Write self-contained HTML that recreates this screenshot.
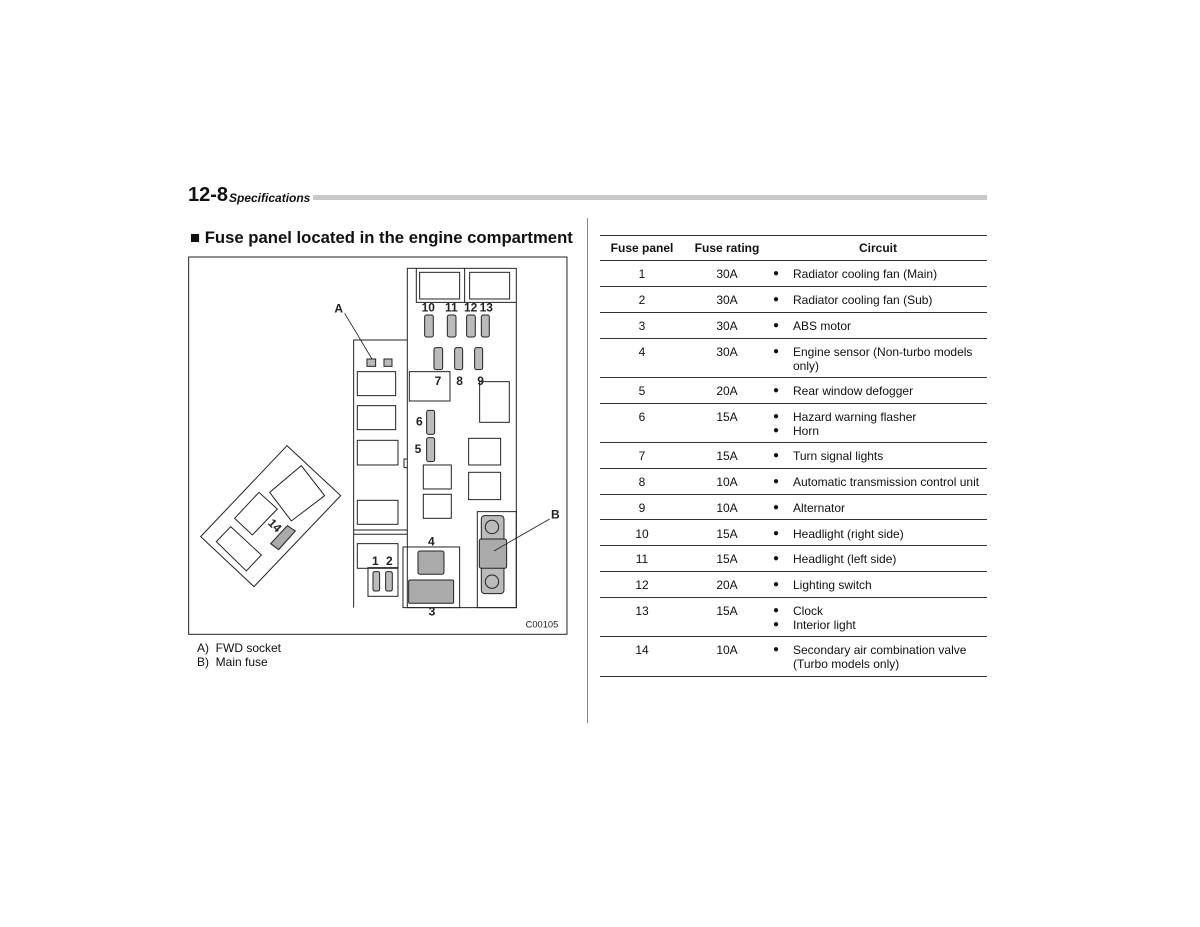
<!DOCTYPE html>
<html><head><meta charset="utf-8"><style>
body{margin:0;background:#fff;width:1200px;height:927px;position:relative;font-family:"Liberation Sans",Arial,sans-serif;color:#111;overflow:hidden}
.a{position:absolute;white-space:nowrap}
.c{position:absolute;font-size:12px;transform:translateX(-50%)}
.t{position:absolute;font-size:12px;left:793px;line-height:14px}
.b{position:absolute;left:773px;font-size:10px;line-height:14px}
.hl{position:absolute;left:600px;width:387px;height:1px;background:#333}
</style></head><body>
<div class="a" style="left:313px;top:195px;width:674px;height:5px;background:#c8c8c8"></div>
<div class="a" style="left:188px;top:184px;font-size:20px;font-weight:bold">12-8</div>
<div class="a" style="left:229px;top:191px;font-size:12px;font-weight:bold;font-style:italic">Specifications</div>
<div class="a" style="left:190px;top:228px;font-size:16.7px;font-weight:bold">■ Fuse panel located in the engine compartment</div>
<div class="a" style="left:587px;top:218px;width:1px;height:505px;background:#888"></div>
<div class="a" style="left:197px;top:641px;font-size:12px;line-height:14px">A)&nbsp; FWD socket<br>B)&nbsp; Main fuse</div>
<svg class="a" style="left:0;top:0" width="1200" height="927">
<g transform="translate(188,255) scale(0.3333)" fill="none" stroke="#222" stroke-width="3" font-family="Liberation Sans,Arial,sans-serif" font-weight="bold" font-size="36">
<rect x="2" y="6" width="1135" height="1132"/>
<rect x="658" y="40" width="327" height="1018"/>
<path d="M685 40V142H985M830 40V142"/>
<rect x="695" y="52" width="120" height="80"/><rect x="845" y="52" width="120" height="80"/>
<g fill="#bbb"><rect x="710" y="180" width="26" height="66" rx="6"/><rect x="778" y="180" width="26" height="66" rx="6"/><rect x="836" y="180" width="26" height="66" rx="6"/><rect x="880" y="180" width="24" height="66" rx="6"/>
<rect x="738" y="278" width="26" height="66" rx="6"/><rect x="800" y="278" width="24" height="66" rx="6"/><rect x="860" y="278" width="24" height="66" rx="6"/>
<rect x="716" y="466" width="24" height="72" rx="6"/><rect x="716" y="548" width="24" height="72" rx="6"/>
<rect x="537" y="312" width="26" height="22"/><rect x="588" y="312" width="24" height="22"/></g>
<rect x="664" y="350" width="122" height="88"/><rect x="875" y="380" width="89" height="122"/>
<path d="M497 1058V255H658M497 825H658M497 838H658M658 612H648V638H658"/>
<rect x="508" y="350" width="115" height="72"/><rect x="508" y="452" width="115" height="72"/><rect x="508" y="556" width="122" height="74"/><rect x="508" y="736" width="122" height="72"/>
<rect x="706" y="630" width="84" height="72"/><rect x="706" y="718" width="84" height="72"/><rect x="842" y="550" width="96" height="80"/><rect x="842" y="652" width="96" height="82"/>
<rect x="868" y="770" width="117" height="288"/>
<rect x="880" y="782" width="68" height="234" rx="10" fill="#bbb"/><rect x="874" y="852" width="82" height="88" rx="6" fill="#aaa"/>
<circle cx="912" cy="816" r="20"/><circle cx="912" cy="980" r="20"/>
<path d="M1085 792L918 888M470 175L552 312" stroke-width="2.5"/>
<rect x="508" y="866" width="122" height="74"/><rect x="540" y="938" width="90" height="86"/>
<rect x="555" y="950" width="20" height="58" rx="5" fill="#bbb"/><rect x="593" y="950" width="20" height="58" rx="5" fill="#bbb"/>
<rect x="645" y="876" width="170" height="182"/>
<rect x="690" y="888" width="78" height="70" rx="6" fill="#aaa"/><rect x="662" y="975" width="135" height="70" rx="4" fill="#aaa"/>
<polygon points="297,572 458,722 198,995 38,845"/>
<polygon points="340,632 410,722 310,798 245,712"/>
<polygon points="213,712 268,762 193,840 140,790"/>
<polygon points="128,815 220,900 175,948 85,860"/>
<polygon points="298,812 322,828 272,884 248,866" fill="#aaa"/>
<g fill="#222" stroke="none" text-anchor="middle">
<text x="452" y="172">A</text><text x="1102" y="790">B</text>
<text x="721" y="170">10</text><text x="790" y="170">11</text><text x="848" y="170">12</text><text x="895" y="170">13</text>
<text x="750" y="390">7</text><text x="815" y="390">8</text><text x="878" y="390">9</text>
<text x="694" y="512">6</text><text x="690" y="594">5</text>
<text x="562" y="930">1</text><text x="604" y="930">2</text>
<text x="730" y="872">4</text><text x="732" y="1082">3</text>
<text transform="translate(252,820) rotate(45)">14</text>
<text x="1062" y="1118" font-weight="normal" font-size="28">C00105</text></g>
</g></svg>
<div class="hl" style="top:235px"></div><div class="hl" style="top:260px"></div>
<div class="hl" style="top:286px"></div><div class="hl" style="top:312px"></div><div class="hl" style="top:338px"></div><div class="hl" style="top:377px"></div><div class="hl" style="top:403px"></div><div class="hl" style="top:442px"></div><div class="hl" style="top:468px"></div><div class="hl" style="top:494px"></div><div class="hl" style="top:519px"></div><div class="hl" style="top:545px"></div><div class="hl" style="top:571px"></div><div class="hl" style="top:597px"></div><div class="hl" style="top:636px"></div><div class="hl" style="top:676px"></div>
<div class="c" style="left:642px;top:241px;font-weight:bold">Fuse panel</div>
<div class="c" style="left:727px;top:241px;font-weight:bold">Fuse rating</div>
<div class="c" style="left:878px;top:241px;font-weight:bold">Circuit</div>
<div class="c" style="left:642px;top:267px">1</div><div class="c" style="left:727px;top:267px">30A</div><div class="b" style="top:267px">●</div><div class="t" style="top:267px">Radiator cooling fan (Main)</div>
<div class="c" style="left:642px;top:293px">2</div><div class="c" style="left:727px;top:293px">30A</div><div class="b" style="top:293px">●</div><div class="t" style="top:293px">Radiator cooling fan (Sub)</div>
<div class="c" style="left:642px;top:319px">3</div><div class="c" style="left:727px;top:319px">30A</div><div class="b" style="top:319px">●</div><div class="t" style="top:319px">ABS motor</div>
<div class="c" style="left:642px;top:345px">4</div><div class="c" style="left:727px;top:345px">30A</div><div class="b" style="top:345px">●</div><div class="t" style="top:345px">Engine sensor (Non-turbo models<br>only)</div>
<div class="c" style="left:642px;top:384px">5</div><div class="c" style="left:727px;top:384px">20A</div><div class="b" style="top:384px">●</div><div class="t" style="top:384px">Rear window defogger</div>
<div class="c" style="left:642px;top:410px">6</div><div class="c" style="left:727px;top:410px">15A</div><div class="b" style="top:410px">●<br>●</div><div class="t" style="top:410px">Hazard warning flasher<br>Horn</div>
<div class="c" style="left:642px;top:449px">7</div><div class="c" style="left:727px;top:449px">15A</div><div class="b" style="top:449px">●</div><div class="t" style="top:449px">Turn signal lights</div>
<div class="c" style="left:642px;top:475px">8</div><div class="c" style="left:727px;top:475px">10A</div><div class="b" style="top:475px">●</div><div class="t" style="top:475px">Automatic transmission control unit</div>
<div class="c" style="left:642px;top:501px">9</div><div class="c" style="left:727px;top:501px">10A</div><div class="b" style="top:501px">●</div><div class="t" style="top:501px">Alternator</div>
<div class="c" style="left:642px;top:527px">10</div><div class="c" style="left:727px;top:527px">15A</div><div class="b" style="top:527px">●</div><div class="t" style="top:527px">Headlight (right side)</div>
<div class="c" style="left:642px;top:552px">11</div><div class="c" style="left:727px;top:552px">15A</div><div class="b" style="top:552px">●</div><div class="t" style="top:552px">Headlight (left side)</div>
<div class="c" style="left:642px;top:578px">12</div><div class="c" style="left:727px;top:578px">20A</div><div class="b" style="top:578px">●</div><div class="t" style="top:578px">Lighting switch</div>
<div class="c" style="left:642px;top:604px">13</div><div class="c" style="left:727px;top:604px">15A</div><div class="b" style="top:604px">●<br>●</div><div class="t" style="top:604px">Clock<br>Interior light</div>
<div class="c" style="left:642px;top:643px">14</div><div class="c" style="left:727px;top:643px">10A</div><div class="b" style="top:643px">●</div><div class="t" style="top:643px">Secondary air combination valve<br>(Turbo models only)</div>
</body></html>
